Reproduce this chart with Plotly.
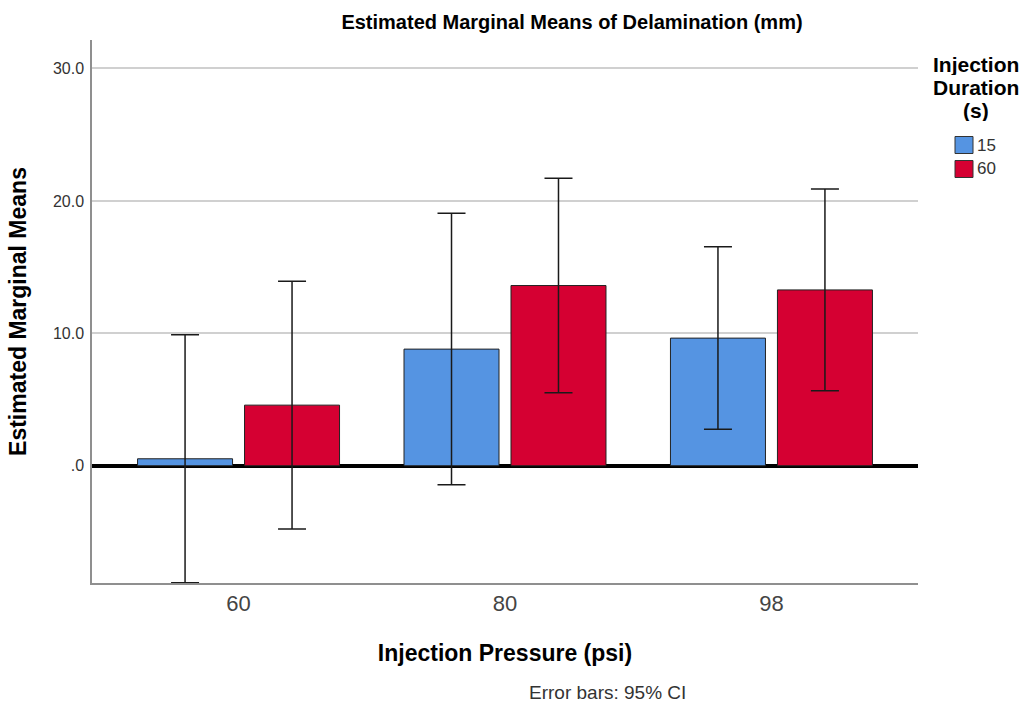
import plotly.graph_objects as go

# Estimated marginal means of delamination (mm) with 95% CI half-widths
pressure = ["60", "80", "98"]
duration = ["15", "60"]
means_15 = [0.53, 8.81, 9.64]
ci_15 = [9.36, 10.25, 6.89]
means_60 = [4.58, 13.61, 13.28]
ci_60 = [9.36, 8.10, 7.62]

y_ticks = [0, 10, 20, 30]
y_tick_text = [".0", "10.0", "20.0", "30.0"]

colors = {"15": "#5594E2", "60": "#D50032"}
FONT = "Arial, Liberation Sans, sans-serif"

W, H = 1029, 709
L, R, T, B = 92, 111, 40, 126
PW, PH = W - L - R, H - T - B


def px_x(px):
    return (px - L) / PW


def px_y(py):
    return 1 - (py - T) / PH


fig = go.Figure()
for dur, m, ci in [("15", means_15, ci_15), ("60", means_60, ci_60)]:
    fig.add_trace(go.Bar(
        x=pressure, y=m, name=dur, showlegend=False,
        marker=dict(color=colors[dur], line=dict(color="#222222", width=1)),
        error_y=dict(type="data", array=ci, symmetric=True,
                     color="#1a1a1a", thickness=1.5, width=14),
    ))

fig.update_layout(
    width=W, height=H,
    margin=dict(l=L, r=R, t=T, b=B),
    paper_bgcolor="white", plot_bgcolor="white",
    barmode="group", bargap=0.197, bargroupgap=0.112,
    font=dict(family=FONT, color="#222222"),
    title=dict(text="<b>Estimated Marginal Means of Delamination (mm)</b>",
               x=572 / W, xref="container", xanchor="center",
               y=1 - 22 / H, yref="container", yanchor="middle",
               font=dict(size=20, color="#000000")),
)

fig.update_xaxes(
    range=[-0.55, 2.55], showline=True, linecolor="#8f8f8f", linewidth=1.5,
    showgrid=False, ticks="", tickfont=dict(size=22, color="#444444"),
    title=dict(text="<b>Injection Pressure (psi)</b>", standoff=30,
               font=dict(size=23, color="#000000")),
)
fig.update_yaxes(
    range=[-8.85, 32.15], showline=True, linecolor="#8f8f8f", linewidth=1.5,
    showgrid=True, gridcolor="#d0d0d0", gridwidth=1.5,
    zeroline=True, zerolinecolor="#000000", zerolinewidth=4,
    tickvals=y_ticks, ticktext=y_tick_text, ticks="", ticklabelstandoff=3,
    tickfont=dict(size=16, color="#333333"),
    title=dict(text="<b>Estimated Marginal Means</b>", standoff=20,
               font=dict(size=23, color="#000000")),
)

# Legend: heading lines, colour swatches and labels
for line, cy in [("Injection", 64), ("Duration", 87), ("(s)", 110)]:
    fig.add_annotation(
        text=f"<b>{line}</b>", xref="paper", yref="paper",
        x=px_x(976.5), y=px_y(cy), xanchor="center", yanchor="middle",
        height=21, borderpad=0, valign="middle",
        showarrow=False, font=dict(size=21, color="#000000"),
    )
for dur, cy in zip(duration, [145, 169]):
    fig.add_shape(
        type="rect", xref="paper", yref="paper",
        x0=px_x(955), x1=px_x(973), y0=px_y(cy + 8.5), y1=px_y(cy - 8.5),
        fillcolor=colors[dur], line=dict(color="#333333", width=1),
    )
    fig.add_annotation(
        text=dur, xref="paper", yref="paper",
        x=px_x(975), y=px_y(cy), xanchor="left", yanchor="middle",
        showarrow=False, font=dict(size=17, color="#333333"),
    )

fig.add_annotation(
    text="Error bars: 95% CI", xref="paper", yref="paper",
    x=px_x(607), y=px_y(692), xanchor="center", yanchor="middle",
    showarrow=False, font=dict(size=19, color="#333333"),
)

fig.write_html("out.html")
